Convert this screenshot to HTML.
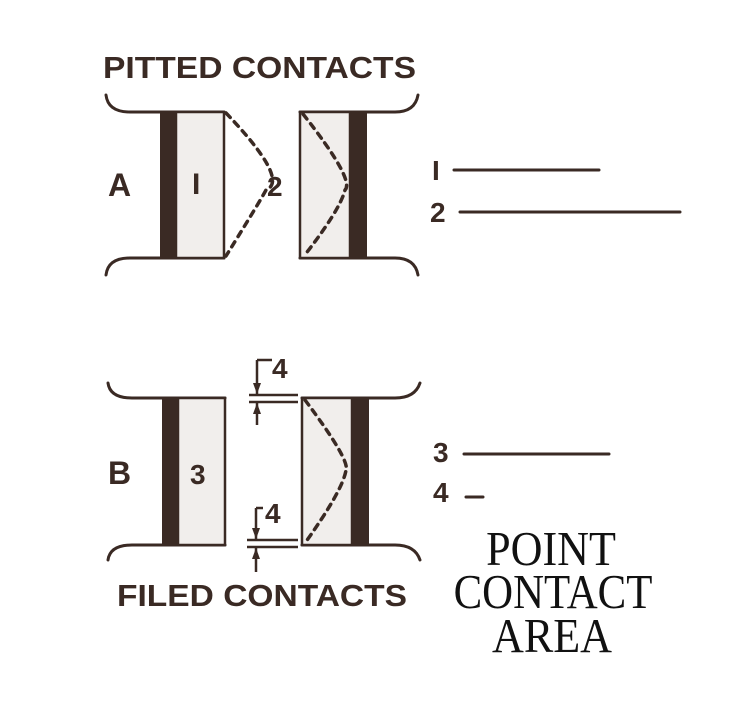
<!DOCTYPE html>
<html><head><style>
body{margin:0;background:#fff;width:750px;height:715px;overflow:hidden}
svg{display:block}
.h{font-family:"Liberation Sans",sans-serif;font-weight:bold;fill:#3a2a24}
.s{font-family:"Liberation Serif",serif;fill:#111}
</style></head><body>
<svg width="750" height="715" viewBox="0 0 750 715">
<g stroke="#3a2a24" fill="none" stroke-width="3" stroke-linecap="round">
<path d="M106 95 Q108 112 130 112 L224 112 M300 112 L395 112 Q415 112 418 95"/>
<path d="M106 275 Q108 258 130 258 L224 258 M300 258 L395 258 Q415 258 418 275"/>
<path d="M108 383 Q110 398 132 398 L225 398 M302 398 L395 398 Q415 398 420 383"/>
<path d="M108 560 Q110 545 132 545 L225 545 M302 545 L395 545 Q415 545 420 560"/>
</g>
<rect x="176" y="112" width="48" height="146" fill="#f1eeec" stroke="#3a2a24" stroke-width="2.5"/>
<rect x="160" y="112" width="17" height="146" fill="#3a2a24"/>
<rect x="300" y="112" width="50" height="146" fill="#f1eeec" stroke="#3a2a24" stroke-width="2.5"/>
<rect x="350" y="112" width="17" height="146" fill="#3a2a24"/>
<rect x="178" y="398" width="47" height="147" fill="#f1eeec" stroke="#3a2a24" stroke-width="2.5"/>
<rect x="162" y="398" width="17" height="147" fill="#3a2a24"/>
<rect x="302" y="398" width="50" height="147" fill="#f1eeec" stroke="#3a2a24" stroke-width="2.5"/>
<rect x="352" y="398" width="17" height="147" fill="#3a2a24"/>
<g stroke="#3a2a24" fill="none" stroke-width="3.5" stroke-dasharray="6 6" stroke-linecap="round">
<path d="M226 113 Q290 180 266 190 Q262 198 226 256"/>
<path d="M303 114 Q355 180 345 190 Q340 210 304 256"/>
<path d="M305 400 Q350 460 346 470 Q343 490 305 543"/>
</g>
<g stroke="#3a2a24" stroke-width="2.5" fill="none">
<path d="M249 395 L298 395 M249 402 L298 402"/>
<path d="M257 360 L257 395 M257 360 L272 360"/>
<path d="M257 402 L257 425"/>
<path d="M247 540 L298 540 M247 547 L298 547"/>
<path d="M256 508 L256 540 M256 508 L263 508 M256 547 L256 572"/>
</g>
<g fill="#3a2a24">
<path d="M253 383 L261 383 L257 394Z"/><path d="M253 414 L261 414 L257 403Z"/>
<path d="M252 528 L260 528 L256 539Z"/><path d="M252 559 L260 559 L256 548Z"/>
</g>
<text class="h" x="103" y="78" font-size="31" textLength="313" lengthAdjust="spacingAndGlyphs">PITTED CONTACTS</text>
<text class="h" x="117" y="606" font-size="31" textLength="290" lengthAdjust="spacingAndGlyphs">FILED CONTACTS</text>
<text class="h" x="108" y="196" font-size="32">A</text>
<text class="h" x="192" y="194" font-size="30">I</text>
<text class="h" x="267" y="196" font-size="28">2</text>
<text class="h" x="108" y="484" font-size="32">B</text>
<text class="h" x="190" y="484" font-size="28">3</text>
<text class="h" x="272" y="378" font-size="28">4</text>
<text class="h" x="265" y="523" font-size="28">4</text>
<text class="h" x="432" y="180" font-size="28">I</text>
<text class="h" x="430" y="222" font-size="28">2</text>
<text class="h" x="433" y="462" font-size="28">3</text>
<text class="h" x="433" y="502" font-size="28">4</text>
<g stroke="#3a2a24" stroke-width="3" stroke-linecap="round">
<path d="M454 170 L599 170"/><path d="M460 212 L680 212"/>
<path d="M464 454 L609 454"/><path d="M466 497 L483 497"/>
</g>
<g class="s" font-size="42" text-anchor="middle">
<text transform="translate(551 565) scale(1.05 1.15)">POINT</text>
<text transform="translate(553 608) scale(1.02 1.15)">CONTACT</text>
<text transform="translate(552 652) scale(1.05 1.15)">AREA</text>
</g>
</svg>
</body></html>
